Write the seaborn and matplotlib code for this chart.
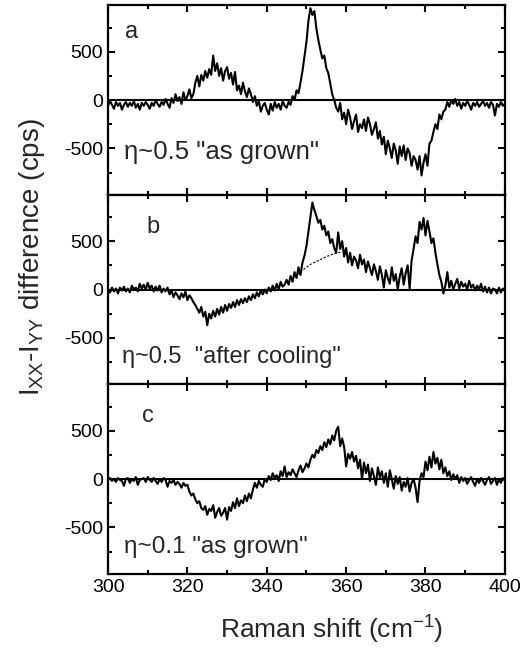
import matplotlib as mpl

mpl.use('Agg')
import pandas as pd
import matplotlib.pyplot as plt
from matplotlib.ticker import MultipleLocator
import seaborn as sns

# Raman shift grid (cm-1), 0.5 cm-1 steps from 300 to 400
shift = [300 + 0.5 * i for i in range(201)]

# panel a: eta~0.5 "as grown"
diff_a = [
    -60, -10, -50, -90, -20, -60, -30, -100, -50, -20,
    -70, -30, -60, -10, -80, -40, -100, -30, -60, -20,
    -50, -90, -30, -60, 0, -40, -70, -20, -50, 10,
    -40, -80, 20, -30, 60, -10, 30, -40, 80, 0,
    40, 110, 20, 60, 180, 250, 140, 260, 200, 300,
    230, 320, 260, 460, 300, 380, 250, 330, 200, 300,
    340, 220, 280, 160, 290, 100, 150, 60, 180, 90,
    30, 120, 60, -20, 40, -60, -10, -120, -60, -30,
    -100, -150, -40, -110, -20, -80, -40, -100, -10, -60,
    -80, -20, -50, 40, 0, 100, 70, 180, 300, 450,
    600, 820, 950, 880, 920, 740, 620, 520, 430, 460,
    330, 280, 170, 60, 0, -80, -120, -30, -200, -130,
    -250, -100, -180, -300, -220, -150, -330, -250, -290, -200,
    -320, -180, -250, -360, -300, -230, -400, -320, -460, -380,
    -560, -420, -500, -600, -450, -520, -660, -480, -580, -470,
    -620, -500, -550, -680, -580, -620, -720, -580, -780, -650,
    -560, -680, -450, -420, -330, -250, -300, -150, -200, -120,
    -100, -20, -70, 0, -40, 10, -60, -20, -90, -30,
    -60, -10, -50, -100, -30, -60, -20, -70, -40, -10,
    -60, -30, -80, -20, -50, -160, -40, -70, -20, -60,
    -40]

# panel b: eta~0.5 "after cooling"
diff_b = [
    0, -30, 20, -20, 10, -40, 20, -10, 30, -20,
    10, -30, 40, 0, 20, -20, 60, 10, 50, 0,
    70, 10, 40, -20, 30, -10, 40, -30, 10, -20,
    20, -50, -10, -80, -30, -60, -100, -40, -80, -20,
    -110, -60, -90, -130, -160, -200, -240, -180, -280, -230,
    -370, -250, -300, -220, -280, -200, -260, -180, -240, -160,
    -220, -150, -190, -130, -180, -110, -160, -100, -140, -90,
    -130, -70, -110, -50, -90, -30, -70, -10, -50, 0,
    -40, 20, -20, 40, -10, 60, 0, 80, 30, 50,
    100, 50, 140, 80, 180, 120, 230, 150, 280, 350,
    450, 600, 750, 900, 820, 760, 690, 720, 620, 660,
    560, 600, 480, 520, 430, 380, 590, 420, 500, 340,
    430, 280, 380, 250, 340, 300, 220, 360, 260, 310,
    180, 290, 220, 150, 260, 190, 100, 240, 150, 20,
    200, 120, 60, 230, 90, 160, 0, 130, 220, 50,
    170, 250, 10, 300, 420, 550, 480, 700, 620, 740,
    560, 710, 600, 480, 530, 380, 260, 150, 80, -40,
    40, 180, 20, 90, 0, 60, 110, 10, 80, 30,
    60, 0, 90, 20, 50, -10, 40, 0, 60, -20,
    30, -30, 20, -40, 10, 0, -40, 20, -30, 10,
    0]

# dashed background under the 351 cm-1 peak in panel b
bg_shift = [347, 349, 351, 353, 355, 357, 359]
bg_b = [130, 200, 260, 300, 340, 370, 390]

# panel c: eta~0.1 "as grown"
diff_c = [
    -10, 10, -20, 0, -30, 10, -10, -20, -70, 0,
    10, -40, 0, -20, 20, -60, -10, 0, 10, -30,
    20, -10, -30, 10, -20, -50, 0, -30, 10, -10,
    -80, -20, -40, -10, -60, -30, -50, -90, -40, -70,
    -60, -130, -170, -150, -210, -250, -230, -300, -320, -280,
    -370, -310, -330, -270, -400, -340, -300, -380, -350, -300,
    -420, -290, -330, -240, -300, -200, -280, -220, -250, -170,
    -230, -150, -200, -110, -40, -90, -20, -60, -80, 0,
    -30, 30, -10, 60, 10, 40, -20, 80, 30, 130,
    20, 70, 40, 100, 60, 20, 90, 140, 70, 110,
    160, 120, 200, 250, 220, 300, 270, 340, 300, 380,
    330, 410, 360, 450, 400, 500, 540, 340, 420, 330,
    130, 260, 210, 280, 180, 240, 110, 200, 0, 170,
    60, 150, -20, 110, 30, -60, 120, 20, 80, -40,
    60, -80, 90, 0, -100, 30, -50, 20, -120, -30,
    -80, 10, -130, -40, 0, -90, -240, -20, 60, 20,
    180, 90, 230, 120, 280, 160, 220, 100, 200, 60,
    120, 30, 80, -10, 50, 0, 40, -40, 20, -20,
    10, -50, -10, 20, -30, -70, 0, -40, 10, -20,
    -60, -10, 20, -50, -20, 10, -60, 0, -40, 10,
    -20]

panel_tags = ['a', 'b', 'c']
tag_pos = [(304.3, 700), (309.8, 650), (308.6, 650)]
notes = ['\u03b7~0.5 "as grown"', '\u03b7~0.5  "after cooling"',
         '\u03b7~0.1 "as grown"']
note_pos = [(304.0, -540), (303.6, -700), (304.0, -700)]
note_size = [18.5, 17, 17.5]

sns.set_style('ticks')
plt.rcParams['font.family'] = ['Liberation Sans', 'DejaVu Sans']
plt.rcParams['mathtext.fontset'] = 'custom'
plt.rcParams['mathtext.rm'] = 'Liberation Sans'
plt.rcParams['mathtext.it'] = 'Liberation Sans'
plt.rcParams['axes.unicode_minus'] = False

fig, axes = plt.subplots(3, 1, sharex=True, figsize=(5.27, 6.58), dpi=100,
                         gridspec_kw=dict(hspace=0, left=0.205, right=0.958,
                                          top=0.992, bottom=0.128))

for ax, y, tag, tp, note, npos, ns in zip(axes, [diff_a, diff_b, diff_c],
                                          panel_tags, tag_pos, notes,
                                          note_pos, note_size):
    df = pd.DataFrame({'shift': shift, 'diff': y})
    sns.lineplot(data=df, x='shift', y='diff', color='black', lw=1.5, ax=ax)
    ax.axhline(0, color='black', lw=1.5)
    ax.set_xlim(300, 400)
    ax.set_ylim(-980, 980)
    ax.yaxis.set_major_locator(MultipleLocator(500))
    ax.yaxis.set_minor_locator(MultipleLocator(250))
    ax.xaxis.set_major_locator(MultipleLocator(20))
    ax.xaxis.set_minor_locator(MultipleLocator(10))
    ax.tick_params(which='both', direction='in', top=True, right=True,
                   width=1.5, labelsize=14, colors='black')
    ax.tick_params(which='major', length=5)
    ax.tick_params(which='minor', length=3)
    for s in ax.spines.values():
        s.set_linewidth(1.6)
        s.set_color('black')
    ax.set_ylabel('')
    ax.set_xlabel('')
    ax.text(tp[0], tp[1], tag, fontsize=17, va='center', ha='left')
    ax.text(npos[0], npos[1], note, fontsize=ns, va='center', ha='left')

df_bg = pd.DataFrame({'shift': bg_shift, 'diff': bg_b})
sns.lineplot(data=df_bg, x='shift', y='diff', color='black', lw=0.8,
             linestyle=(0, (2, 1.5)), ax=axes[1])
axes[1].set_xlabel('')
axes[1].set_ylabel('')

fig.text(0.63, 0.043, 'Raman shift (cm$^{-1}$)', fontsize=19,
         va='center', ha='center')
fig.text(0.06, 0.61, r'I$_{\rm XX}$-I$_{\rm YY}$ difference (cps)',
         rotation=90, fontsize=20, va='center', ha='center')

plt.savefig('out.png', dpi=100)
